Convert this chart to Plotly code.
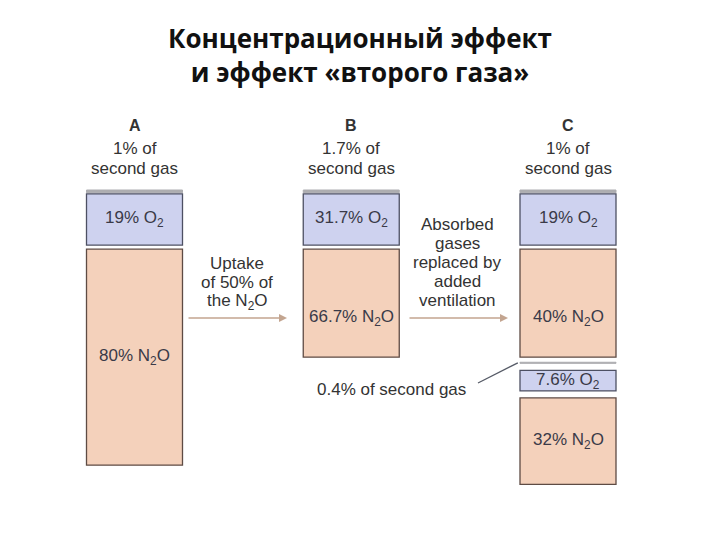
import plotly.graph_objects as go

# ---------------- data (volume units, column A = 100) ----------------
columns = ["A", "B", "C"]
A_kinds = ["second", "O2", "N2O"]
B_kinds = ["second", "O2", "N2O"]
C_kinds = ["second", "O2", "N2O", "second", "O2", "N2O"]
A_volume = [1, 19, 80]
B_volume = [1, 19, 40]
C_volume = [1, 19, 40, 0.4, 7.6, 32]
A_pct = ["1%", "19%", "80%"]
B_pct = ["1.7%", "31.7%", "66.7%"]
C_pct = ["1%", "19%", "40%", "0.4%", "7.6%", "32%"]
arrow1_text = ["Uptake", "of 50% of", "the N<sub>2</sub>O"]
arrow2_text = ["Absorbed", "gases", "replaced by", "added", "ventilation"]
title_lines = ["Концентрационный эффект", "и эффект «второго газа»"]

# ---------------- layout / style ----------------
W, H = 720, 540
TOP_PX = 190.0      # pixel of column top
SCALE = 2.7         # px per volume unit
X0_PX = 134.5       # pixel centre of column A
STEP_PX = 216.75    # pixel distance between columns
BAR_W = 96 / STEP_PX
GAPS = {"A": [0.4, 1.5], "B": [0.4, 1.5], "C": [0.4, 1.5, 1.9, 2.6, 2.6]}
FILL = {"second": "#adadb0", "O2": "#ced2ef", "N2O": "#f4d1bb"}
EDGE = {"second": "#adadb0", "O2": "#4d5063", "N2O": "#5e4b44"}
TXT = "#3a3a48"
FONT = "Liberation Sans"
ARROW_COL = "#c3a590"


def px_x(p):
    return (p - X0_PX) / STEP_PX


def px_y(p):
    return (p - TOP_PX) / SCALE


ARROW_Y = px_y(318)

data = {
    "A": (A_kinds, A_volume, A_pct),
    "B": (B_kinds, B_volume, B_pct),
    "C": (C_kinds, C_volume, C_pct),
}

segs = []  # (col, kind, base, height, pct, index)
for col in columns:
    kinds, vols, pcts = data[col]
    base = 0.0
    for i, (k, v, p) in enumerate(zip(kinds, vols, pcts)):
        segs.append((col, k, base, v, p, i))
        base += v
        if i < len(GAPS[col]):
            base += GAPS[col][i]

fig = go.Figure()
for kind in ["second", "O2", "N2O"]:
    ss = [s for s in segs if s[1] == kind]
    fig.add_trace(go.Bar(
        x=[columns.index(s[0]) for s in ss],
        base=[s[2] for s in ss],
        y=[s[3] for s in ss],
        width=BAR_W,
        marker=dict(color=FILL[kind],
                    line=dict(color=EDGE[kind], width=1.0 if kind == "second" else 1.3)),
        hoverinfo="skip",
        showlegend=False,
    ))

ann = []
for col, kind, base, h, pct, i in segs:
    xc = columns.index(col)
    if kind == "O2":
        ann.append(dict(x=xc, y=base + h / 2, text=f"{pct} O<sub>2</sub>"))
    elif kind == "N2O":
        yy = base + h / 2
        if col in ("B", "C") and i == 2:
            yy = ARROW_Y
        ann.append(dict(x=xc, y=yy, text=f"{pct} N<sub>2</sub>O"))
for a in ann:
    a.update(xref="x", yref="y", showarrow=False,
             font=dict(family=FONT, size=17, color=TXT))

# column headers
for col in columns:
    xc = columns.index(col)
    pct = data[col][2][0]
    ann.append(dict(x=xc, y=px_y(125), text=f"<b>{col}</b>", xref="x", yref="y",
                    showarrow=False, font=dict(family=FONT, size=16, color="#333")))
    ann.append(dict(x=xc, y=px_y(148), text=f"{pct} of", xref="x", yref="y",
                    showarrow=False, font=dict(family=FONT, size=17, color="#333")))
    ann.append(dict(x=xc, y=px_y(168), text="second gas", xref="x", yref="y",
                    showarrow=False, font=dict(family=FONT, size=17, color="#333")))

# arrows + their texts
for (x0p, x1p) in [(187, 287), (408, 508)]:
    ann.append(dict(x=px_x(x1p), y=ARROW_Y, ax=px_x(x0p), ay=ARROW_Y,
                    xref="x", yref="y", axref="x", ayref="y", text="",
                    showarrow=True, arrowhead=2, arrowsize=1, arrowwidth=1.6,
                    arrowcolor=ARROW_COL))
for j, t in enumerate(arrow1_text):
    ann.append(dict(x=px_x(237), y=px_y(263 + 19.5 * j), text=t, xref="x", yref="y",
                    showarrow=False, font=dict(family=FONT, size=17, color="#333")))
for j, t in enumerate(arrow2_text):
    ann.append(dict(x=px_x(457), y=px_y(224 + 19 * j), text=t, xref="x", yref="y",
                    showarrow=False, font=dict(family=FONT, size=17, color="#333")))

# second gas in lower C part
c_strip = [s for s in segs if s[0] == "C" and s[1] == "second"][1]
ann.append(dict(x=px_x(391), y=px_y(389), text=f"{c_strip[4]} of second gas",
                xref="x", yref="y", showarrow=False,
                font=dict(family=FONT, size=17, color="#333")))
shapes = [dict(type="line", xref="x", yref="y",
               x0=px_x(478), y0=px_y(383),
               x1=2 - BAR_W / 2 - 0.01, y1=c_strip[2] + c_strip[3] / 2,
               line=dict(color="#555a66", width=1.3))]

# title
ann.append(dict(x=0.5, y=1 - 55 / H, xref="paper", yref="paper",
                text="<br>".join(f"<b>{t}</b>" for t in title_lines),
                showarrow=False,
                font=dict(family="Open Sans", size=26, color="#111")))

for a in ann:
    if not a.get("showarrow"):
        a.update(xanchor="center", yanchor="middle")

fig.update_layout(
    width=W, height=H,
    margin=dict(l=0, r=0, t=0, b=0),
    paper_bgcolor="white", plot_bgcolor="white",
    barmode="overlay",
    xaxis=dict(range=[px_x(0), px_x(W)], visible=False, fixedrange=True),
    yaxis=dict(range=[px_y(H), px_y(0)], visible=False, fixedrange=True),
    annotations=ann, shapes=shapes,
)
fig.write_html("out.html", config={"displayModeBar": False},
               post_script="document.body.style.margin='0';")
